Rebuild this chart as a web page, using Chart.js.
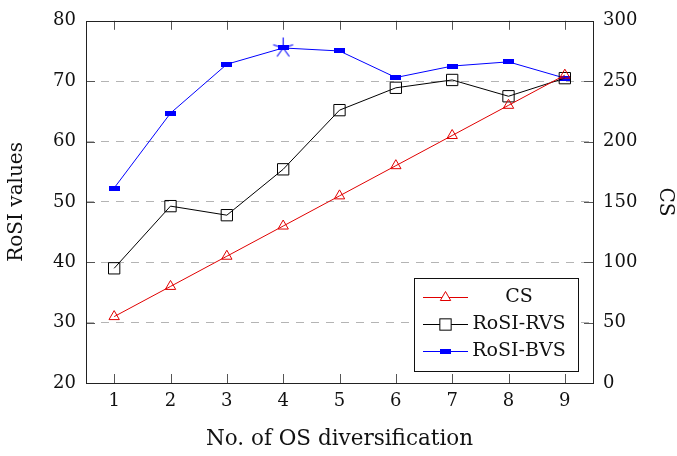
<!DOCTYPE html>
<html>
<head>
<meta charset="utf-8">
<script src="https://cdn.jsdelivr.net/npm/chart.js@4.4.1/dist/chart.umd.min.js"></script>
<style>
  html, body { margin: 0; padding: 0; background: #fff; }
  #wrap { width: 677px; height: 456px; }
</style>
</head>
<body>
<div id="wrap"><canvas id="c" width="677" height="456"></canvas></div>
<script>
// ---- data ----
const categories = [1, 2, 3, 4, 5, 6, 7, 8, 9];
const csValues = [55, 80, 105, 130, 155, 180, 205, 230, 255];           // right axis (CS)
const rosiRVS = [39.0, 49.3, 47.8, 55.4, 65.2, 68.9, 70.2, 67.5, 70.5];   // left axis
const rosiBVS = [52.3, 64.7, 72.8, 75.5, 75.0, 70.6, 72.5, 73.2, 70.5];   // left axis
const bvsPeakIndex = 3;
const leftTicks = [20, 30, 40, 50, 60, 70, 80];
const rightTicks = [0, 50, 100, 150, 200, 250, 300];
const seriesNames = ['CS', 'RoSI-RVS', 'RoSI-BVS'];

const FONT = '"DejaVu Serif", "Liberation Serif", serif';

// ---- marker images ----
function makeBlueBar() {
  const cv = document.createElement('canvas');
  cv.width = 11; cv.height = 5;
  const g = cv.getContext('2d');
  g.fillStyle = '#0000ff';
  g.fillRect(0, 0, 11, 5);
  return cv;
}
function makeStar() {
  const cv = document.createElement('canvas');
  cv.width = 23; cv.height = 23;
  const g = cv.getContext('2d');
  g.strokeStyle = '#0000ff';
  g.lineWidth = 1.1;
  const cx = 11.5, cy = 11.5, r = 10.5;
  g.beginPath();
  for (let k = 0; k < 5; k++) {
    const a = (-90 + 72 * k) * Math.PI / 180;
    g.moveTo(cx, cy);
    g.lineTo(cx + r * Math.cos(a), cy + r * Math.sin(a));
  }
  g.stroke();
  return cv;
}
const blueBar = makeBlueBar();
const starImg = makeStar();

const toXY = (vals) => vals.map((v, i) => ({ x: categories[i], y: v }));
const peakData = rosiBVS.map((v, i) => ({ x: categories[i], y: i === bvsPeakIndex ? v : null }));

// ---- plugins ----
const framePlugin = {
  id: 'frame',
  afterDraw(chart) {
    const { ctx, chartArea: a, scales } = chart;
    ctx.save();
    ctx.strokeStyle = '#555';
    ctx.lineWidth = 1;
    const L = 9;
    ctx.beginPath();
    scales.x.ticks.forEach(t => {
      const px = Math.round(scales.x.getPixelForValue(t.value)) + 0.5;
      ctx.moveTo(px, a.bottom); ctx.lineTo(px, a.bottom - L);
      ctx.moveTo(px, a.top); ctx.lineTo(px, a.top + L);
    });
    scales.y.ticks.forEach(t => {
      const py = Math.round(scales.y.getPixelForValue(t.value)) + 0.5;
      ctx.moveTo(a.left, py); ctx.lineTo(a.left + L, py);
    });
    scales.y1.ticks.forEach(t => {
      const py = Math.round(scales.y1.getPixelForValue(t.value)) + 0.5;
      ctx.moveTo(a.right, py); ctx.lineTo(a.right - L, py);
    });
    ctx.stroke();
    ctx.strokeStyle = '#222';
    ctx.strokeRect(Math.round(a.left) + 0.5, Math.round(a.top) + 0.5,
                   Math.round(a.right - a.left), Math.round(a.bottom - a.top));
    ctx.restore();
  }
};

const legendPlugin = {
  id: 'boxLegend',
  afterDraw(chart) {
    const { ctx } = chart;
    const bx = 414.5, by = 278.5, bw = 164, bh = 93;
    ctx.save();
    ctx.fillStyle = '#fff';
    ctx.fillRect(bx, by, bw, bh);
    ctx.strokeStyle = '#111';
    ctx.lineWidth = 1;
    ctx.strokeRect(bx, by, bw, bh);
    const rows = [297, 324, 351];
    chart.data.datasets.slice(0, 3).forEach((ds, i) => {
      const y = rows[i] + 0.5;
      ctx.strokeStyle = ds.borderColor;
      ctx.lineWidth = 1;
      ctx.beginPath();
      ctx.moveTo(423, y); ctx.lineTo(468, y);
      ctx.stroke();
      const mx = 445.5;
      if (ds.pointStyle === 'triangle') {
        const r = ds.pointRadius;
        ctx.beginPath();
        ctx.moveTo(mx, y - r);
        ctx.lineTo(mx + r * Math.sqrt(3) / 2, y + r / 2);
        ctx.lineTo(mx - r * Math.sqrt(3) / 2, y + r / 2);
        ctx.closePath();
        ctx.fillStyle = '#fff';
        ctx.fill();
        ctx.stroke();
      } else if (ds.pointStyle === 'rect') {
        const s = ds.pointRadius * Math.SQRT1_2;
        ctx.fillStyle = '#fff';
        ctx.fillRect(mx - s, y - s, 2 * s, 2 * s);
        ctx.strokeRect(mx - s, y - s, 2 * s, 2 * s);
      } else {
        ctx.drawImage(blueBar, mx - 5.5, y - 2.5);
      }
      ctx.fillStyle = '#111';
      ctx.font = '19px ' + FONT;
      ctx.textAlign = 'center';
      ctx.textBaseline = 'middle';
      ctx.fillText(ds.label, 519, y);
    });
    ctx.restore();
  }
};

new Chart(document.getElementById('c'), {
  type: 'line',
  data: {
    datasets: [
      {
        label: seriesNames[0], data: toXY(csValues), yAxisID: 'y1',
        borderColor: '#e00000', backgroundColor: '#ffffff', borderWidth: 1,
        pointStyle: 'triangle', pointRadius: 6, pointBorderWidth: 1,
        pointBackgroundColor: 'rgba(255,255,255,0)', pointBorderColor: '#e00000', tension: 0
      },
      {
        label: seriesNames[1], data: toXY(rosiRVS), yAxisID: 'y',
        borderColor: '#000000', backgroundColor: '#ffffff', borderWidth: 1,
        pointStyle: 'rect', pointRadius: 8, pointBorderWidth: 1,
        pointBackgroundColor: 'rgba(255,255,255,0)', pointBorderColor: '#000', tension: 0
      },
      {
        label: seriesNames[2], data: toXY(rosiBVS), yAxisID: 'y',
        borderColor: '#0000ff', backgroundColor: '#0000ff', borderWidth: 1,
        pointStyle: blueBar, pointRadius: 5, tension: 0
      },
      {
        label: 'peak', data: peakData, yAxisID: 'y',
        showLine: false, pointStyle: starImg, pointRadius: 11,
        borderColor: '#0000ff', order: -1
      }
    ]
  },
  options: {
    responsive: false,
    animation: false,
    devicePixelRatio: 1,
    layout: { padding: { top: 12, left: 0, right: 0, bottom: 0 } },
    plugins: { legend: { display: false }, tooltip: { enabled: false } },
    scales: {
      x: {
        type: 'linear', min: 0.5, max: 9.5,
        afterBuildTicks(s) { s.ticks = categories.map(v => ({ value: v })); },
        afterFit(s) { s.height = 73; },
        grid: { display: false, drawTicks: false },
        border: { display: false },
        ticks: { color: '#111', font: { family: FONT, size: 18 }, padding: 8 },
        title: { display: true, text: 'No. of OS diversification', color: '#111',
                 font: { family: FONT, size: 21.5 }, padding: { top: 0, bottom: 4 } }
      },
      y: {
        type: 'linear', position: 'left', min: 20, max: 80,
        afterBuildTicks(s) { s.ticks = leftTicks.map(v => ({ value: v })); },
        afterFit(s) { s.width = 86; },
        grid: {
          drawTicks: false,
          color: (c) => (c.tick && (c.tick.value === 20 || c.tick.value === 80)) ? 'rgba(0,0,0,0)' : '#b4b4b4',
          lineWidth: 1
        },
        border: { display: false, dash: [8, 7] },
        ticks: { color: '#111', font: { family: FONT, size: 18 }, padding: 10 },
        title: { display: true, text: 'RoSI values', color: '#111',
                 font: { family: FONT, size: 20 }, padding: { top: 5, bottom: 0 } }
      },
      y1: {
        type: 'linear', position: 'right', min: 0, max: 300,
        afterBuildTicks(s) { s.ticks = rightTicks.map(v => ({ value: v })); },
        afterFit(s) { s.width = 84; },
        grid: { display: false, drawTicks: false },
        border: { display: false },
        ticks: { color: '#111', font: { family: FONT, size: 18 }, padding: 10 },
        title: { display: true, text: 'CS', color: '#111',
                 font: { family: FONT, size: 20 }, padding: { top: 0, bottom: 0 } }
      }
    }
  },
  plugins: [framePlugin, legendPlugin]
});
</script>
</body>
</html>
